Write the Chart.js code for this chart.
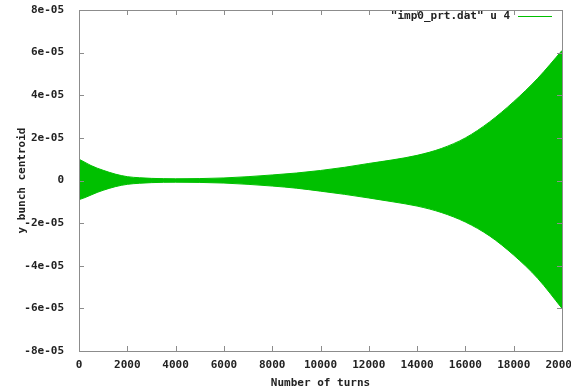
<!DOCTYPE html>
<html>
<head>
<meta charset="utf-8">
<script src="https://cdn.jsdelivr.net/npm/chart.js@4"></script>
<style>
  html, body { margin: 0; padding: 0; background: #fff; }
  #wrap { width: 571px; height: 390px; }
</style>
</head>
<body>
<div id="wrap"><canvas id="chart"></canvas></div>
<script>
// envelope of the oscillating centroid
const turns = [0, 250, 500, 750, 1000, 1500, 2000, 2500, 3000, 4000, 5000, 6000, 7000,
               8000, 9000, 10000, 11000, 12000, 13000, 14000, 15000, 16000, 17000,
               18000, 19000, 20000];
const upperEnv = [1.0e-05, 0.85e-05, 0.7e-05, 0.58e-05, 0.48e-05, 0.3e-05, 0.18e-05, 0.13e-05,
                  0.1e-05, 0.08e-05, 0.09e-05, 0.12e-05, 0.18e-05, 0.26e-05, 0.35e-05,
                  0.47e-05, 0.62e-05, 0.8e-05, 0.97e-05, 1.18e-05, 1.5e-05, 2.0e-05,
                  2.75e-05, 3.7e-05, 4.8e-05, 6.1e-05];
const lowerEnv = [-0.9e-05, -0.8e-05, -0.68e-05, -0.56e-05, -0.46e-05, -0.29e-05, -0.18e-05,
                  -0.13e-05, -0.1e-05, -0.08e-05, -0.09e-05, -0.12e-05, -0.18e-05, -0.26e-05,
                  -0.36e-05, -0.5e-05, -0.65e-05, -0.82e-05, -1.0e-05, -1.2e-05, -1.5e-05,
                  -1.95e-05, -2.6e-05, -3.5e-05, -4.6e-05, -6.0e-05];

const xTickValues = [0, 2000, 4000, 6000, 8000, 10000, 12000, 14000, 16000, 18000, 20000];
const yTickValues = [-8e-05, -6e-05, -4e-05, -2e-05, 0, 2e-05, 4e-05, 6e-05, 8e-05];
const yTickLabels = ['-8e-05', '-6e-05', '-4e-05', '-2e-05', '0', '2e-05', '4e-05', '6e-05', '8e-05'];

const legendText = '"imp0_prt.dat" u 4';
const GREEN = '#00c000';
const FONT = 'bold 11px "DejaVu Sans Mono", "Liberation Mono", monospace';

// gnuplot style frame: full box with inward ticks on all sides, plus the key
const framePlugin = {
    id: 'frame',
    afterDatasetsDraw(chart) {
        const { ctx, chartArea: a, scales: { x, y } } = chart;
        ctx.save();
        ctx.strokeStyle = '#8c8c8c';
        ctx.lineWidth = 1;
        ctx.strokeRect(a.left + 0.5, a.top + 0.5, a.right - a.left, a.bottom - a.top);
        ctx.beginPath();
        xTickValues.forEach(v => {
            const px = Math.round(x.getPixelForValue(v)) + 0.5;
            ctx.moveTo(px, a.bottom); ctx.lineTo(px, a.bottom - 5);
            ctx.moveTo(px, a.top); ctx.lineTo(px, a.top + 5);
        });
        yTickValues.forEach(v => {
            const py = Math.round(y.getPixelForValue(v)) + 0.5;
            ctx.moveTo(a.left, py); ctx.lineTo(a.left + 5, py);
            ctx.moveTo(a.right, py); ctx.lineTo(a.right - 5, py);
        });
        ctx.stroke();

        // key, top right
        ctx.font = FONT;
        ctx.fillStyle = '#222';
        ctx.textAlign = 'right';
        ctx.textBaseline = 'middle';
        ctx.fillText(legendText, a.right - 52, a.top + 6);
        ctx.strokeStyle = GREEN;
        ctx.beginPath();
        ctx.moveTo(a.right - 44, a.top + 6.5);
        ctx.lineTo(a.right - 10, a.top + 6.5);
        ctx.stroke();
        ctx.restore();
    }
};

const ctx = document.getElementById('chart').getContext('2d');
new Chart(ctx, {
    type: 'line',
    data: {
        labels: turns,
        datasets: [
            {
                label: 'upper',
                data: turns.map((t, i) => ({ x: t, y: upperEnv[i] })),
                borderColor: GREEN,
                borderWidth: 1,
                pointRadius: 0,
                cubicInterpolationMode: 'monotone',
                fill: false
            },
            {
                label: legendText,
                data: turns.map((t, i) => ({ x: t, y: lowerEnv[i] })),
                borderColor: GREEN,
                backgroundColor: GREEN,
                borderWidth: 1,
                pointRadius: 0,
                cubicInterpolationMode: 'monotone',
                fill: '-1'
            }
        ]
    },
    options: {
        responsive: true,
        maintainAspectRatio: false,
        animation: false,
        layout: { padding: { top: 10, right: 9, left: 0, bottom: 0 } },
        plugins: {
            legend: { display: false },
            tooltip: { enabled: false }
        },
        scales: {
            x: {
                type: 'linear',
                min: 0,
                max: 20000,
                afterBuildTicks: s => { s.ticks = xTickValues.map(v => ({ value: v })); },
                afterFit: s => { s.height = 39; s.paddingLeft = 0; s.paddingRight = 0; },
                grid: { display: false },
                border: { display: false },
                ticks: {
                    color: '#222',
                    font: { family: '"DejaVu Sans Mono"', size: 11, weight: 'bold' },
                    padding: 0,
                    maxRotation: 0,
                    autoSkip: false,
                    callback: v => String(v)
                },
                title: {
                    display: true,
                    text: 'Number of turns',
                    color: '#222',
                    font: { family: '"DejaVu Sans Mono"', size: 11, weight: 'bold' },
                    padding: { top: 2, bottom: 0 }
                }
            },
            y: {
                min: -8e-05,
                max: 8e-05,
                afterBuildTicks: s => { s.ticks = yTickValues.map(v => ({ value: v })); },
                afterFit: s => { s.width = 79; s.paddingTop = 0; s.paddingBottom = 0; },
                grid: { display: false },
                border: { display: false },
                ticks: {
                    color: '#222',
                    font: { family: '"DejaVu Sans Mono"', size: 11, weight: 'bold' },
                    padding: 7,
                    autoSkip: false,
                    callback: (v, i) => yTickLabels[i]
                },
                title: {
                    display: true,
                    text: 'y bunch centroid',
                    color: '#222',
                    font: { family: '"DejaVu Sans Mono"', size: 11, weight: 'bold' },
                    padding: { top: 16, bottom: 4 }
                }
            }
        }
    },
    plugins: [framePlugin]
});
</script>
</body>
</html>
